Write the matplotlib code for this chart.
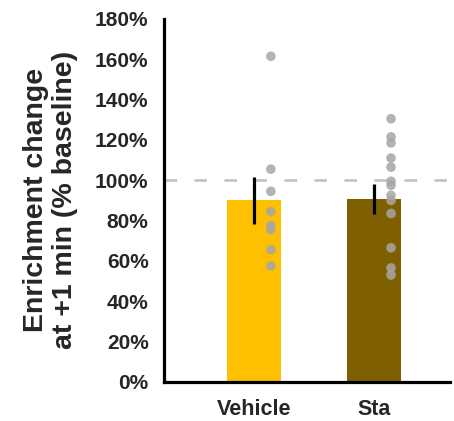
import matplotlib.pyplot as plt
import numpy as np

plt.rcParams['font.family'] = ['Liberation Sans', 'DejaVu Sans']
plt.rcParams['font.weight'] = 'bold'

groups = ['Vehicle', 'Sta']
means = [90, 90.7]
errors = [11.5, 7.5]
bar_colors = ['#FFC000', '#7F6000']
vehicle_pts = [161.5, 105.5, 94.5, 84.5, 77.5, 75.5, 65.5, 57.5]
sta_pts = [130.5, 121.5, 118.5, 111, 106.5, 99.5, 97.5, 92.5, 90, 83.5, 66.5, 56.5, 53]
baseline = 100

fig = plt.figure(figsize=(4.54, 4.21), dpi=100)
ax = fig.add_axes([0.361, 0.093, 0.630, 0.862])

x = np.arange(len(groups))
ax.bar(x, means, width=0.45, color=bar_colors, zorder=1)
ax.errorbar(x, means, yerr=errors, fmt='none', ecolor='black',
            elinewidth=2.3, capsize=0, zorder=3)

for xi, pts in zip(x, [vehicle_pts, sta_pts]):
    ax.scatter(np.full(len(pts), xi + 0.14), pts, s=48, color='#A6A6A6',
               alpha=0.85, edgecolors='none', zorder=4)

ax.axhline(baseline, color='#BFBFBF', linestyle=(0, (5, 7)), linewidth=1.8, zorder=2)

ax.set_xlim(-0.75, 1.63)
ax.set_ylim(0, 180)
ax.set_yticks(np.arange(0, 181, 20))
ax.set_yticklabels([f'{v}%' for v in range(0, 181, 20)])
ax.set_xticks(x)
ax.set_xticklabels(groups)
ax.tick_params(axis='y', length=0, labelsize=15, pad=11)
ax.tick_params(axis='x', length=0, labelsize=15.5, pad=12)
for lab in ax.get_xticklabels() + ax.get_yticklabels():
    lab.set_fontweight('bold')
    lab.set_color('#262626')

for s in ['top', 'right']:
    ax.spines[s].set_visible(False)
for s in ['left', 'bottom']:
    ax.spines[s].set_linewidth(2.3)

ax.set_ylabel('Enrichment change\nat +1 min (% baseline)', fontsize=20.5,
              fontweight='bold', color='#262626', linespacing=1.15)
ax.yaxis.set_label_coords(-0.30, 0.5)

fig.savefig('out.png', dpi=100)
